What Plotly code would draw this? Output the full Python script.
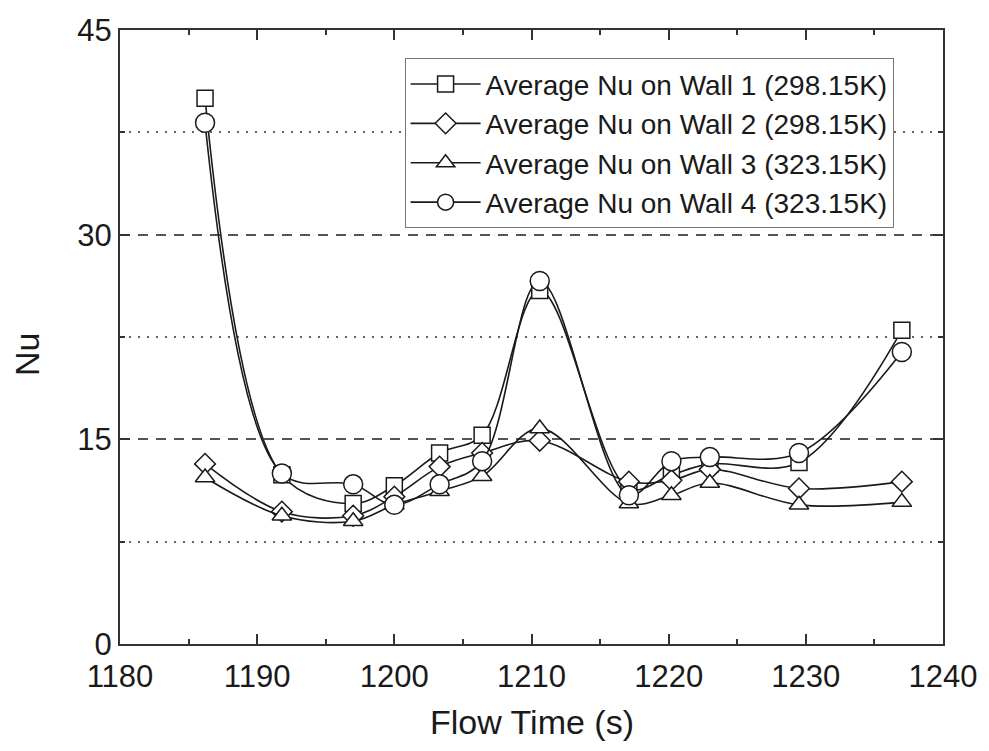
import plotly.graph_objects as go

flow_time = [1186.2, 1191.8, 1197.0, 1200.0, 1203.3, 1206.4, 1210.6, 1217.1, 1220.2, 1223.0, 1229.5, 1237.0]
wall1 = [40.0, 12.4, 10.3, 11.6, 14.0, 15.3, 25.9, 11.4, 12.4, 13.2, 13.3, 23.0]
wall2 = [13.2, 9.7, 9.4, 10.8, 13.0, 14.0, 14.9, 11.9, 12.0, 12.8, 11.4, 11.9]
wall3 = [12.2, 9.4, 9.0, 10.2, 11.2, 12.3, 15.8, 10.3, 10.9, 11.8, 10.2, 10.4]
wall4 = [38.2, 12.5, 11.7, 10.2, 11.7, 13.4, 26.6, 10.9, 13.4, 13.7, 14.0, 21.4]

names = ["Average Nu on Wall 1 (298.15K)", "Average Nu on Wall 2 (298.15K)",
         "Average Nu on Wall 3 (323.15K)", "Average Nu on Wall 4 (323.15K)"]
series = [wall1, wall2, wall3, wall4]
symbols = ["square", "diamond", "triangle-up", "circle"]
sizes = [16, 16, 17, 19]

y_ticks = [0, 15, 30, 45]
y_minor = [7.5, 22.5, 37.5]
x_ticks = [1180, 1190, 1200, 1210, 1220, 1230, 1240]

FONT = "Liberation Sans, Arial, sans-serif"
fig = go.Figure()
for name, ys, sym, sz in zip(names, series, symbols, sizes):
    fig.add_trace(go.Scatter(
        x=flow_time, y=ys, name=name, mode="lines+markers",
        line=dict(color="#1a1a1a", width=1.6, shape="spline", smoothing=1.0),
        marker=dict(symbol=sym, size=sz, color="white",
                    line=dict(color="#1a1a1a", width=1.5)),
    ))

fig.update_layout(
    width=989, height=751,
    margin=dict(l=120, r=39, t=30, b=107),
    paper_bgcolor="white", plot_bgcolor="white",
    font=dict(family=FONT, color="#1a1a1a", size=30),
    showlegend=True,
    legend=dict(x=0.3458, y=0.954, xanchor="left", yanchor="top",
                bordercolor="#777", borderwidth=1, bgcolor="white",
                font=dict(size=28, family=FONT, color="#1a1a1a"),
                itemwidth=70, tracegroupgap=0),
    annotations=[
        dict(text="Flow Time (s)", x=0.5, y=-0.0, xref="paper", yref="paper",
             xanchor="center", yanchor="middle", yshift=-78, showarrow=False,
             font=dict(size=34, family=FONT, color="#1a1a1a")),
        dict(text="Nu", x=0, y=0.5, xref="paper", yref="paper", textangle=-90,
             xanchor="center", yanchor="middle", xshift=-93, yshift=-18, showarrow=False,
             font=dict(size=34, family=FONT, color="#1a1a1a")),
    ],
)
fig.update_xaxes(
    range=[1180, 1240], tickvals=x_ticks, ticks="inside", ticklen=10, tickwidth=1.5,
    tickcolor="#333", showline=True, linecolor="#333", linewidth=2, mirror="allticks",
    showgrid=False, zeroline=False, tickfont=dict(size=31, family=FONT, color="#1a1a1a"),
    ticklabelstandoff=4,
    minor=dict(dtick=5, ticks="inside", ticklen=5, tickcolor="#333", showgrid=False),
)
fig.update_yaxes(
    range=[0, 45], tickvals=y_ticks, ticks="inside", ticklen=10, tickwidth=1.5,
    tickcolor="#333", showline=True, linecolor="#333", linewidth=2, mirror="allticks",
    showgrid=True, gridcolor="#555", gridwidth=1.5, griddash="10px,8px", zeroline=False,
    tickfont=dict(size=31, family=FONT, color="#1a1a1a"),
    minor=dict(tickvals=y_minor, ticks="inside", ticklen=5, tickcolor="#333",
               showgrid=True, gridcolor="#666", gridwidth=1.5, griddash="2px,7px"),
)
fig.write_html("out.html")
